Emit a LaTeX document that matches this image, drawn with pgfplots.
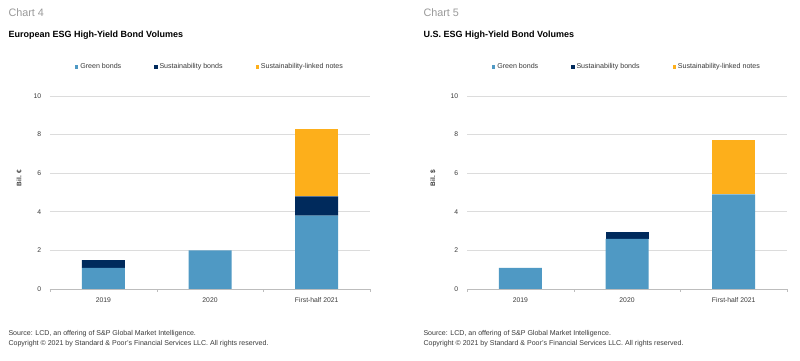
\documentclass[border=0pt]{standalone}
\usepackage{pgfplots}
\pgfplotsset{compat=1.18}
\usepackage{fontspec}
\setmainfont{Liberation Sans}
\definecolor{gb}{HTML}{4F99C4}
\definecolor{sb}{HTML}{002A5C}
\definecolor{sl}{HTML}{FDAF1B}
\definecolor{gridc}{HTML}{DCDCDC}
\definecolor{axc}{HTML}{BDBDBD}
\definecolor{txt}{HTML}{3A3A3A}
\definecolor{chartc}{HTML}{9A9A9A}
\pgfplotsset{
  esg/.style={
    scale only axis, width=320pt, height=193pt,
    ybar stacked, bar width=43pt,
    xmin=-0.5, xmax=2.5, ymin=0, ymax=10,
    ytick={0,2,4,6,8,10},
    xtick={0,1,2}, xticklabels={2019,2020,First-half 2021},
    minor xtick={-0.5,0.5,1.5,2.5},
    major x tick style={draw=none},
    minor x tick style={draw=axc},
    minor tick length=3pt, tick align=outside,
    ymajorgrids, grid style={draw=gridc, line width=0.6pt},
    axis x line*=bottom, axis y line*=left,
    x axis line style={draw=axc, line width=0.6pt, -},
    y axis line style={draw=none},
    y tick style={draw=none},
    tick label style={font=\fontsize{6.8}{7}\selectfont, text=txt},
    /pgf/number format/assume math mode=true,
    xticklabel style={yshift=-1pt},
    yticklabel style={xshift=-1pt},
    legend style={at={(0.5,1.15)}, anchor=center, draw=none, fill=none,
      legend columns=3, font=\fontsize{7.1}{8}\selectfont, text=txt,
      /tikz/every even column/.append style={column sep=31pt},
      inner sep=0pt},
    legend cell align=left,
    legend image code/.code={\fill[##1] (0pt,-1.6pt) rectangle (3.2pt,1.6pt);},
    every axis plot/.append style={draw=none},
  }
}
\begin{document}
\begin{tikzpicture}[x=1pt,y=1pt]
\path[fill=white, use as bounding box] (0,0) rectangle (800,361);
% left chart
\node[anchor=west, text=chartc, font=\fontsize{10.8}{13}\selectfont] at (5,348) {Chart 4};
\node[anchor=west, font=\fontsize{9}{10}\selectfont\bfseries] at (5,326) {European ESG High-Yield Bond Volumes};
\node[rotate=90, font=\fontsize{6.5}{7}\selectfont\bfseries, text=txt] at (19,183) {Bil. €};
\begin{axis}[esg, at={(50pt,72pt)}, anchor=south west]
\addplot[fill=gb] coordinates {(0,1.1) (1,2.0) (2,3.8)};
\addplot[fill=sb] coordinates {(0,0.4) (1,0) (2,1.0)};
\addplot[fill=sl] coordinates {(0,0) (1,0) (2,3.5)};
\legend{Green bonds, Sustainability bonds, Sustainability-linked notes}
\end{axis}
\node[anchor=west, font=\fontsize{7.05}{8}\selectfont, text=txt] at (5,27) {Source: LCD, an offering of S\&P Global Market Intelligence.};
\node[anchor=west, font=\fontsize{7.05}{8}\selectfont, text=txt] at (5,17) {Copyright © 2021 by Standard \& Poor's Financial Services LLC. All rights reserved.};
% right chart
\node[anchor=west, text=chartc, font=\fontsize{10.8}{13}\selectfont] at (420,348) {Chart 5};
\node[anchor=west, font=\fontsize{9}{10}\selectfont\bfseries] at (420,326) {U.S. ESG High-Yield Bond Volumes};
\node[rotate=90, font=\fontsize{6.5}{7}\selectfont\bfseries, text=txt] at (433,183) {Bil. \$};
\begin{axis}[esg, at={(467pt,72pt)}, anchor=south west]
\addplot[fill=gb] coordinates {(0,1.1) (1,2.6) (2,4.9)};
\addplot[fill=sb] coordinates {(0,0) (1,0.35) (2,0)};
\addplot[fill=sl] coordinates {(0,0) (1,0) (2,2.8)};
\legend{Green bonds, Sustainability bonds, Sustainability-linked notes}
\end{axis}
\node[anchor=west, font=\fontsize{7.05}{8}\selectfont, text=txt] at (420,27) {Source: LCD, an offering of S\&P Global Market Intelligence.};
\node[anchor=west, font=\fontsize{7.05}{8}\selectfont, text=txt] at (420,17) {Copyright © 2021 by Standard \& Poor's Financial Services LLC. All rights reserved.};
\end{tikzpicture}
\end{document}
